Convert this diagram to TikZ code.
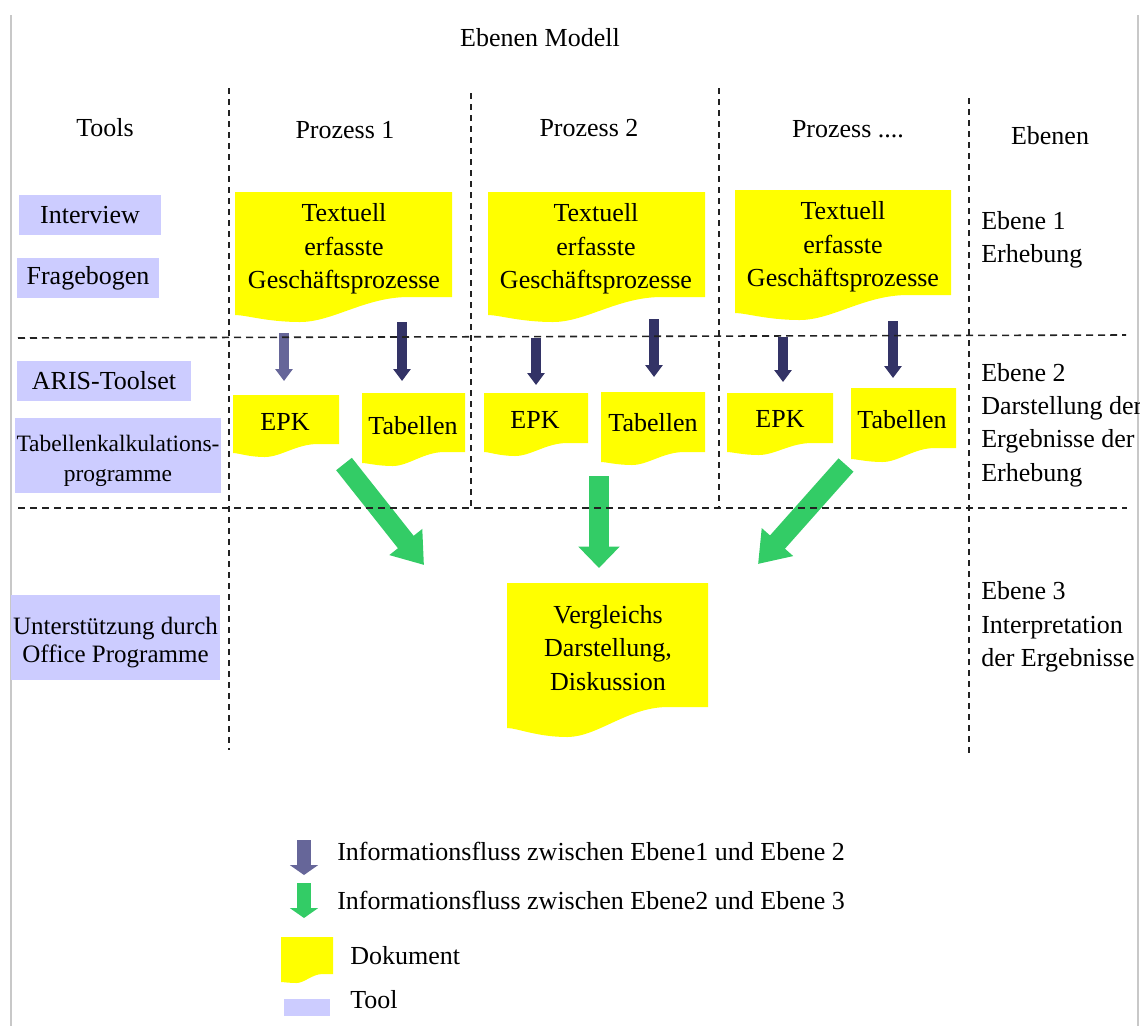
\documentclass[tikz,border=0pt]{standalone}
\usepackage{fontspec}
\setmainfont{Liberation Serif}
\usetikzlibrary{arrows.meta}
\definecolor{docyellow}{HTML}{FFFF00}
\definecolor{toolblue}{HTML}{CCCCFF}
\definecolor{lightnavy}{HTML}{666699}
\definecolor{darknavy}{HTML}{333366}
\definecolor{flowgreen}{HTML}{33CC66}
\definecolor{framegray}{HTML}{C8C8C8}
\definecolor{dashgray}{HTML}{222222}
% #1=x1 #2=ytop #3=x2 #4=y right bottom #5=y lowest #6=y left bottom
\newcommand\docshape[6]{%
  \fill[docyellow] (#1,#2) -- (#3,#2) -- (#3,#4) -- ({#1+0.8*(#3-#1)},#4)
    .. controls ({#1+0.6*(#3-#1)},#4) and ({#1+0.45*(#3-#1)},#5) .. ({#1+0.3*(#3-#1)},#5)
    .. controls ({#1+0.15*(#3-#1)},#5) and ({#1+0.05*(#3-#1)},#6) .. (#1,#6) -- cycle;}
\tikzset{
  txt/.style={font=\fontsize{19.5}{25}\selectfont, inner sep=0pt, align=center},
  toolbox/.style={txt, fill=toolblue},
  sepline/.style={draw=dashgray, line width=1.2pt, dash pattern=on 4.5pt off 3.75pt},
  hsepline/.style={sepline, dash pattern=on 5.25pt off 3.75pt},
  framebar/.style={draw=framegray, line width=1.5pt},
  smallarrow/.style={line width=7.5pt, -{Triangle[width=12.75pt,length=9pt]}},
  lightflow/.style={smallarrow, draw=lightnavy},
  darkflow/.style={smallarrow, draw=darknavy},
  greenflow/.style={draw=flowgreen, line width=15pt, -{Triangle[width=30pt,length=#1]}},
  greenflow/.default=17pt,
  legendarrow/.style={line width=10.5pt, -{Triangle[width=21pt,length=7.5pt]}}
}
\begin{document}
\begin{tikzpicture}[x=0.75pt,y=-0.75pt]
\useasboundingbox (0,0) rectangle (1140,1026);
\clip (0,0) rectangle (1140,1026);
\fill[white] (0,0) rectangle (1140,1026);

% frame bars
\coordinate (fl1) at (11,15); \coordinate (fl2) at (11,1026);
\coordinate (fr1) at (1138,15); \coordinate (fr2) at (1138,1026);
\draw[framebar] (fl1) -- (fl2);
\draw[framebar] (fr1) -- (fr2);

% title and headers
\node[txt] (title) at (540,38) {Ebenen Modell};
\node[txt] (htools) at (105,128) {Tools};
\node[txt] (hp1) at (345,130) {Prozess 1};
\node[txt] (hp2) at (589,128) {Prozess 2};
\node[txt] (hp3) at (848,129) {Prozess ....};
\node[txt] (heb) at (1050,136) {Ebenen};

% tools
\node[toolbox, minimum width=106.5pt, minimum height=30pt] (interview) at (90,215) {Interview};
\node[toolbox, minimum width=106.5pt, minimum height=30pt] (frage) at (88,278) {Fragebogen};
\node[toolbox, minimum width=130.5pt, minimum height=30pt] (aris) at (104,381) {ARIS-Toolset};
\node[toolbox, minimum width=154.5pt, minimum height=56.25pt, font=\fontsize{17.6}{22.5}\selectfont] (tabkalk) at (118,455.5) {\raisebox{-3.75pt}[\height][\depth]{\begin{tabular}{@{}c@{}}Tabellenkalkulations-\\[0.3pt]programme\end{tabular}}};
\node[toolbox, minimum width=156.75pt, minimum height=63.75pt, font=\fontsize{18.75}{21}\selectfont] (office) at (115.5,637.5) {\raisebox{-3.75pt}[\height][\depth]{\begin{tabular}{@{}c@{}}Unterstützung durch\\Office Programme\end{tabular}}};

% level 1 documents
\docshape{235}{192}{452}{297}{322}{315}
\docshape{488}{192}{705}{297}{322}{315}
\docshape{735}{190}{951}{295}{320}{313}
\node[txt] (doc1) at (344,249) {Textuell\\erfasste\\Geschäftsprozesse};
\node[txt] (doc2) at (596,249) {Textuell\\erfasste\\Geschäftsprozesse};
\node[txt] (doc3) at (843,247) {Textuell\\erfasste\\Geschäftsprozesse};

% level 2 documents
\docshape{233}{395}{339}{444}{457}{453}
\docshape{362}{393}{465}{452}{466}{463}
\docshape{484}{393}{588}{443}{456}{452}
\docshape{601}{392}{705}{452}{465}{462}
\docshape{727}{393}{833}{443}{455}{452}
\docshape{851}{388}{956}{448}{462}{459}
\node[txt] (epk1) at (285,422) {EPK};
\node[txt] (tab1) at (413,426) {Tabellen};
\node[txt] (epk2) at (535,420) {EPK};
\node[txt] (tab2) at (653,423) {Tabellen};
\node[txt] (epk3) at (780,419) {EPK};
\node[txt] (tab3) at (902,420) {Tabellen};

% level 3 document
\docshape{507}{583}{708}{707}{737}{728}
\node[txt] (vergl) at (608,648) {Vergleichs\\Darstellung,\\Diskussion};

% level labels
\node[txt, align=left, anchor=west] (eb1) at (981,240) {Ebene 1\\Erhebung};
\node[txt, align=left, anchor=west] (eb2) at (981,425) {Ebene 2\\Darstellung der\\Ergebnisse der\\Erhebung};
\node[txt, align=left, anchor=west] (eb3) at (981,627) {Ebene 3\\Interpretation\\der Ergebnisse};

% arrows level 1 -> level 2
\coordinate (a1s) at (284,333); \coordinate (a1e) at (284,381);
\coordinate (a2s) at (402,322); \coordinate (a2e) at (402,381);
\coordinate (a3s) at (536,338); \coordinate (a3e) at (536,385);
\coordinate (a4s) at (654,319); \coordinate (a4e) at (654,377);
\coordinate (a5s) at (783,337); \coordinate (a5e) at (783,382);
\coordinate (a6s) at (893,321); \coordinate (a6e) at (893,378);
\draw[lightflow] (a1s) -- (a1e);
\draw[darkflow] (a2s) -- (a2e);
\draw[darkflow] (a3s) -- (a3e);
\draw[darkflow] (a4s) -- (a4e);
\draw[darkflow] (a5s) -- (a5e);
\draw[darkflow] (a6s) -- (a6e);

% arrows level 2 -> level 3
\coordinate (g1s) at (344,464); \coordinate (g1e) at (424,565);
\coordinate (g2s) at (599,476); \coordinate (g2e) at (599,568);
\coordinate (g3s) at (846,465); \coordinate (g3e) at (758,564);
\draw[greenflow=22pt] (g1s) -- (g1e);
\draw[greenflow=16pt] (g2s) -- (g2e);
\draw[greenflow=22pt] (g3s) -- (g3e);

% separator lines
\coordinate (h1a) at (18,338); \coordinate (h1b) at (1126,335);
\coordinate (h2a) at (18,508); \coordinate (h2b) at (1127,508);
\coordinate (v1a) at (229,88); \coordinate (v1b) at (229,750);
\coordinate (v2a) at (471,93); \coordinate (v2b) at (471,508);
\coordinate (v3a) at (719,88); \coordinate (v3b) at (719,508);
\coordinate (v4a) at (969,98); \coordinate (v4b) at (969,758);
\draw[hsepline] (h1a) -- (h1b);
\draw[hsepline] (h2a) -- (h2b);
\draw[sepline] (v1a) -- (v1b);
\draw[sepline] (v2a) -- (v2b);
\draw[sepline] (v3a) -- (v3b);
\draw[sepline] (v4a) -- (v4b);

% legend
\coordinate (l1s) at (304,840); \coordinate (l1e) at (304,875);
\coordinate (l2s) at (304,883); \coordinate (l2e) at (304,918);
\draw[legendarrow, draw=lightnavy] (l1s) -- (l1e);
\draw[legendarrow, draw=flowgreen] (l2s) -- (l2e);
\node[txt, anchor=west] (leg1) at (337,851) {Informationsfluss zwischen Ebene1 und Ebene 2};
\node[txt, anchor=west] (leg2) at (337,900) {Informationsfluss zwischen Ebene2 und Ebene 3};
\docshape{281}{937}{333}{974}{983}{982}
\node[txt, anchor=west] (leg3) at (350,956) {Dokument};
\node[toolbox, minimum width=34.5pt, minimum height=12.75pt] (legtool) at (307,1007.5) {};
\node[txt, anchor=west] (leg4) at (350,1000) {Tool};
\end{tikzpicture}
\end{document}
